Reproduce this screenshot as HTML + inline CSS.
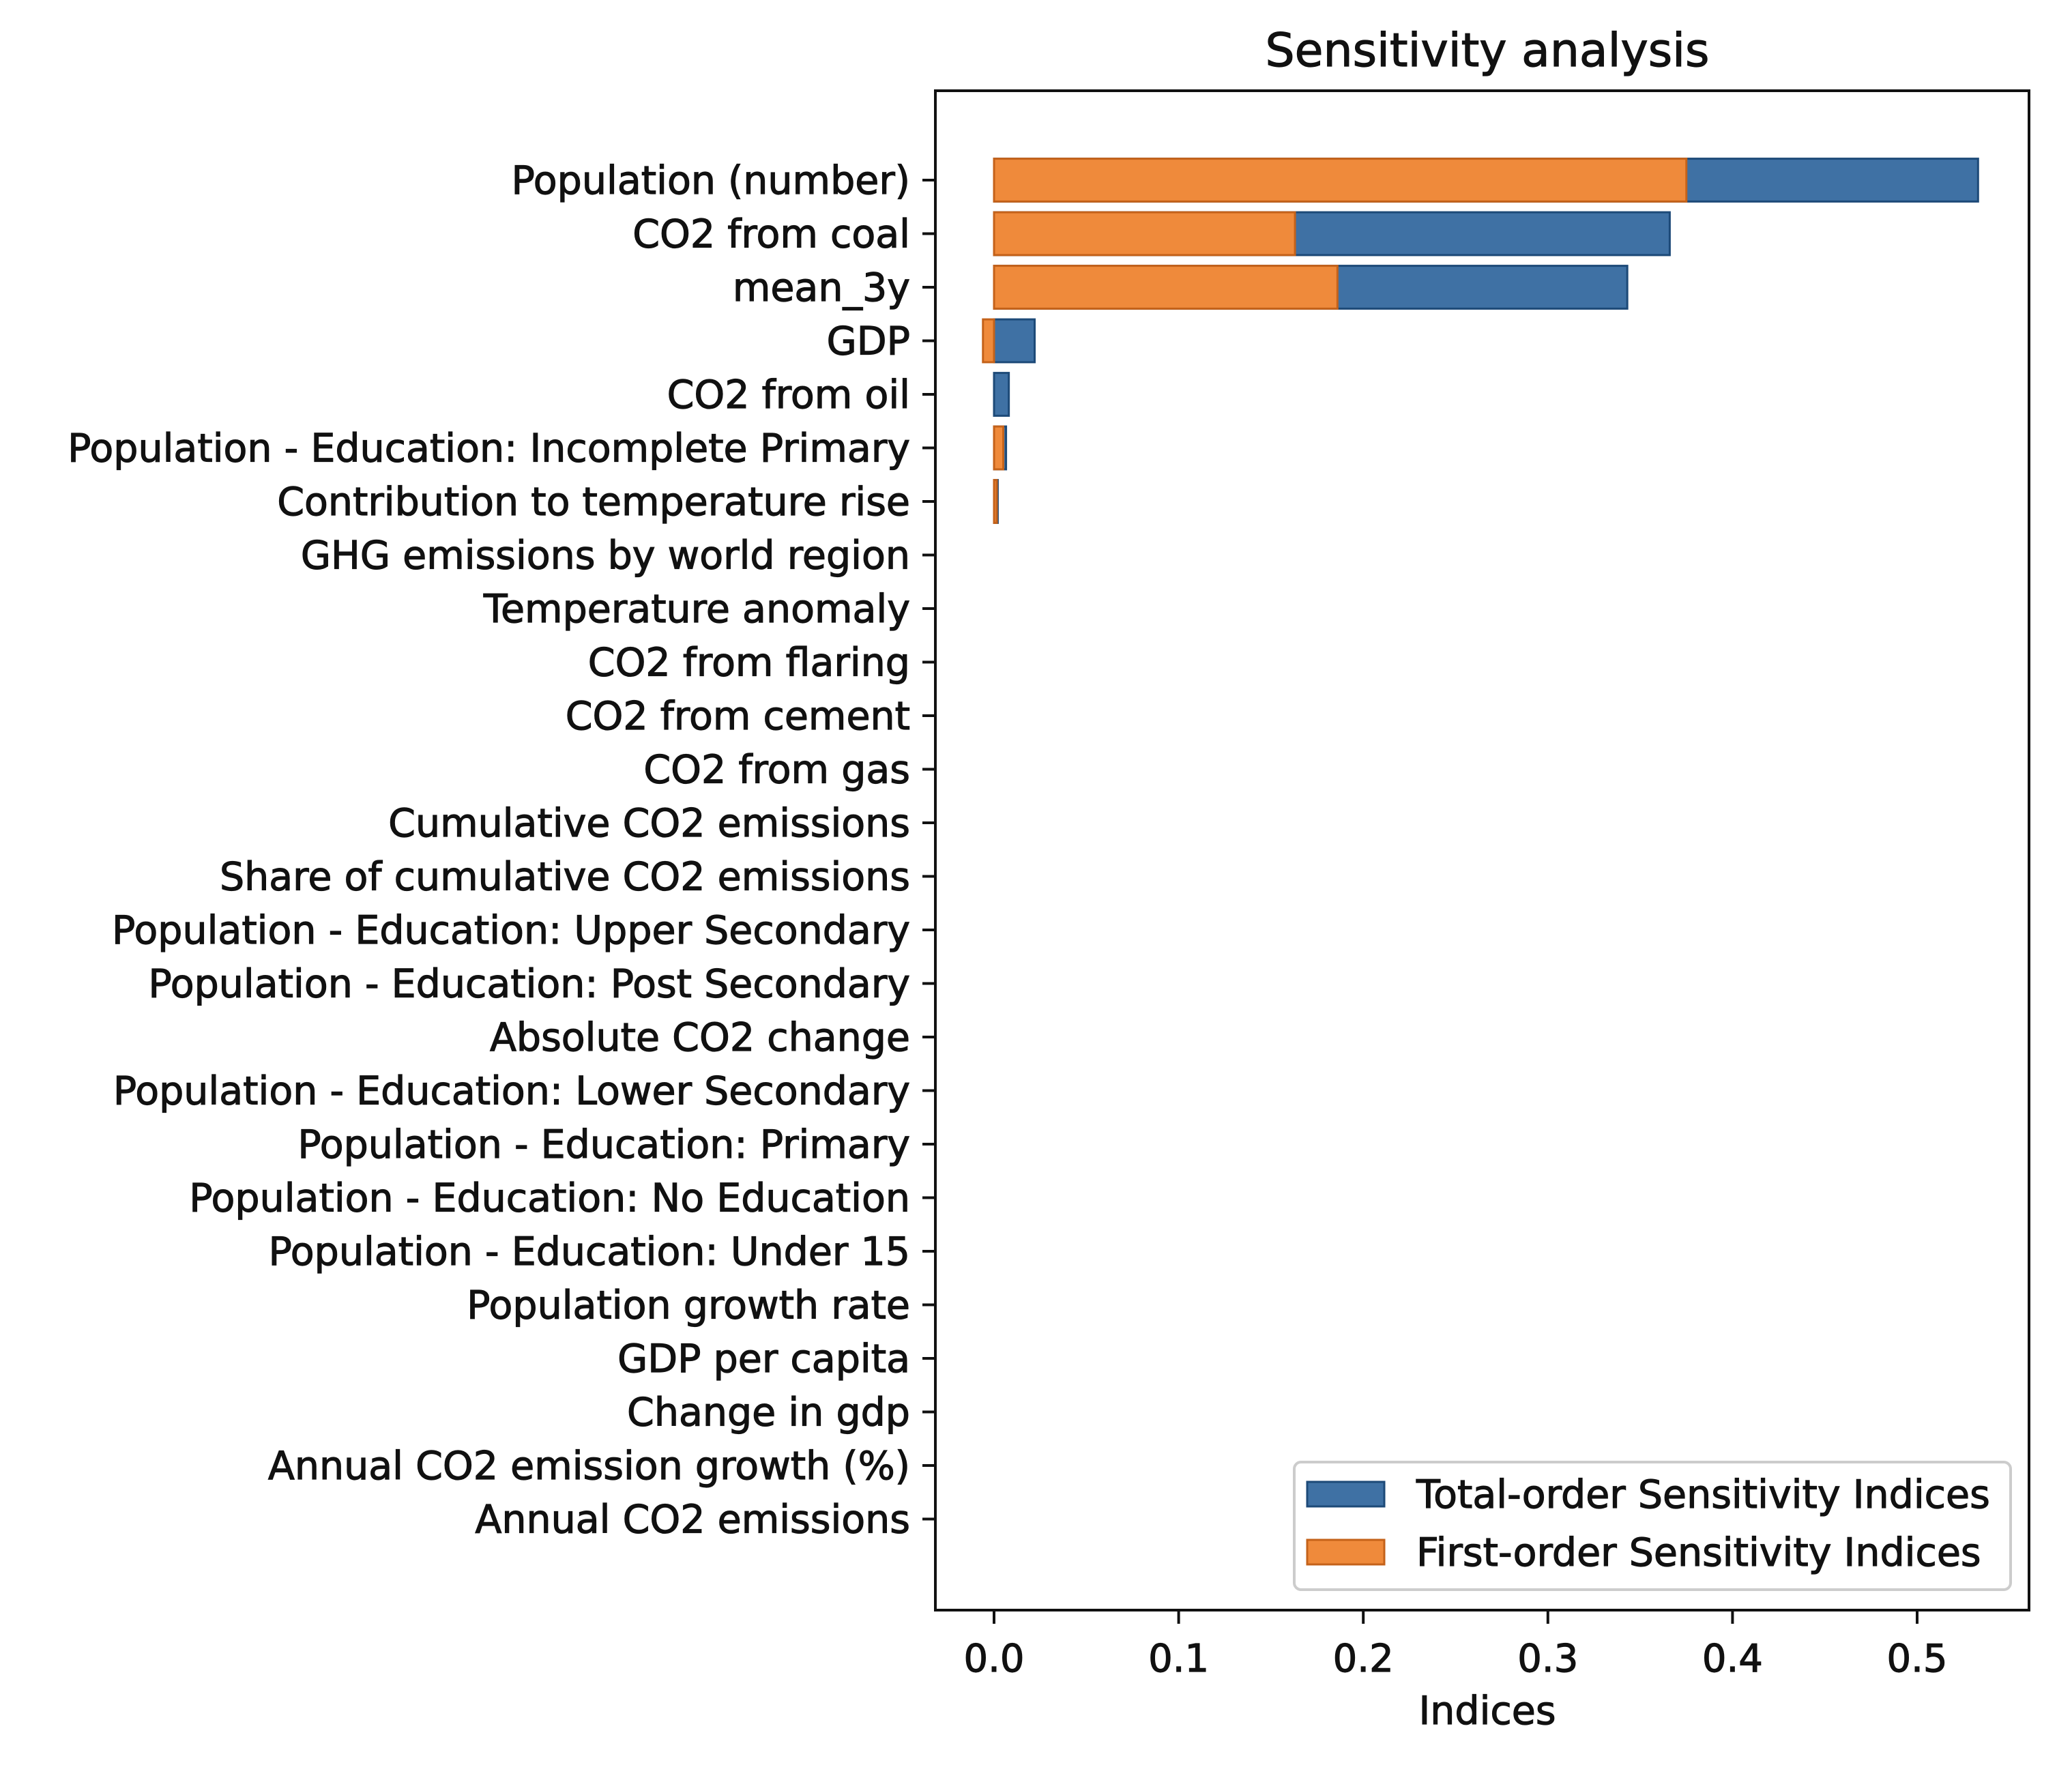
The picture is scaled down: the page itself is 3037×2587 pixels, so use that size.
<!DOCTYPE html>
<html><head><meta charset="utf-8"><style>
html,body{margin:0;padding:0;background:#fff;}
svg{display:block;}
text{font-family:"DejaVu Sans","Liberation Sans",sans-serif;fill:#111;stroke:#111;stroke-width:1.2;}
</style></head><body>
<svg id="chart" width="3037" height="2587" viewBox="0 0 3037 2587" xmlns="http://www.w3.org/2000/svg">
<rect x="0" y="0" width="3037" height="2587" fill="#fff"/>
<text x="2180" y="97" text-anchor="middle" font-size="68">Sensitivity analysis</text>
<g id="bars"></g>
<rect x="1371" y="133" width="1603" height="2227" fill="none" stroke="#111" stroke-width="4"/>
<g id="yaxis"></g>
<g id="xaxis"></g>
<text x="2180" y="2527" text-anchor="middle" font-size="57">Indices</text>
<g>
<rect x="1897" y="2143" width="1050" height="187" rx="10" fill="#fff" stroke="#ccc" stroke-width="4"/>
<rect x="1916" y="2172" width="113" height="36" fill="#3f71a4" stroke="#1d4a78" stroke-width="3"/>
<text x="2076" y="2210" font-size="57">Total-order Sensitivity Indices</text>
<rect x="1916" y="2257" width="113" height="36" fill="#ef8a3b" stroke="#c4621a" stroke-width="3"/>
<text x="2076" y="2295" font-size="57">First-order Sensitivity Indices</text>
</g>
</svg>
<script>
const categories = ["Population (number)","CO2 from coal","mean_3y","GDP","CO2 from oil","Population - Education: Incomplete Primary","Contribution to temperature rise","GHG emissions by world region","Temperature anomaly","CO2 from flaring","CO2 from cement","CO2 from gas","Cumulative CO2 emissions","Share of cumulative CO2 emissions","Population - Education: Upper Secondary","Population - Education: Post Secondary","Absolute CO2 change","Population - Education: Lower Secondary","Population - Education: Primary","Population - Education: No Education","Population - Education: Under 15","Population growth rate","GDP per capita","Change in gdp","Annual CO2 emission growth (%)","Annual CO2 emissions"];
const totalOrder = [0.533,0.366,0.343,0.022,0.008,0.0065,0.002,0,0,0,0,0,0,0,0,0,0,0,0,0,0,0,0,0,0,0];
const firstOrder = [0.375,0.163,0.186,-0.006,0.0,0.005,0.0015,0,0,0,0,0,0,0,0,0,0,0,0,0,0,0,0,0,0,0];
const xTicks = [0,0.1,0.2,0.3,0.4,0.5];
const xTickLabels = ["0.0","0.1","0.2","0.3","0.4","0.5"];

const NS="http://www.w3.org/2000/svg";
const X0=1457, XU=2706;
const Y0=264, DY=78.5, BH=0.8*DY;
function xs(v){return X0+v*XU;}
function ys(i){return Y0+i*DY;}
const bars=document.getElementById('bars'), ya=document.getElementById('yaxis'), xa=document.getElementById('xaxis');
function mk(t,a){const e=document.createElementNS(NS,t);for(const k in a)e.setAttribute(k,a[k]);return e;}
function bar(v,i,fill,stroke,name){
  const a=Math.min(xs(0),xs(v)), b=Math.max(xs(0),xs(v));
  const w=Math.max(b-a,1.5);
  const r=mk('rect',{x:a,y:ys(i)-BH/2,width:w,height:BH,fill:fill,stroke:stroke,'stroke-width':3});
  
  
  bars.appendChild(r);
}
categories.forEach((c,i)=>{
  if(totalOrder[i]!==0) bar(totalOrder[i],i,'#3f71a4','#1d4a78','bar-total-'+i);
});
categories.forEach((c,i)=>{
  if(firstOrder[i]!==0) bar(firstOrder[i],i,'#ef8a3b','#c4621a','bar-first-'+i);
});
categories.forEach((c,i)=>{
  const t=mk('line',{x1:1352,x2:1371,y1:ys(i),y2:ys(i),stroke:'#111','stroke-width':4});
  
  
  ya.appendChild(t);
  const l=mk('text',{x:1334,y:ys(i)+20,'text-anchor':'end','font-size':57});
  
  
  l.textContent=c; ya.appendChild(l);
});
xTicks.forEach((v,i)=>{
  const t=mk('line',{x1:xs(v),x2:xs(v),y1:2360,y2:2380,stroke:'#111','stroke-width':4});
  
  
  xa.appendChild(t);
  const l=mk('text',{x:xs(v),y:2450,'text-anchor':'middle','font-size':56});
  
  
  l.textContent=xTickLabels[i]; xa.appendChild(l);
});
</script>
</body></html>
